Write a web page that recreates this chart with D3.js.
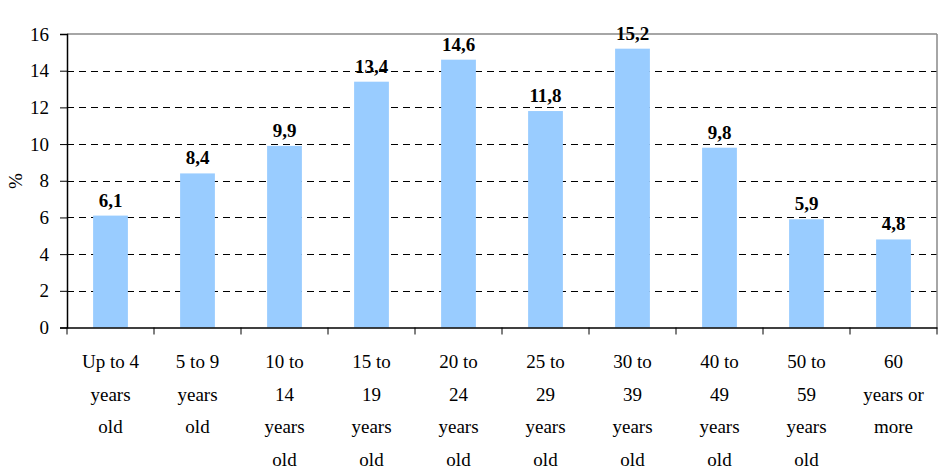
<!DOCTYPE html>
<html><head><meta charset="utf-8">
<script src="https://cdn.jsdelivr.net/npm/d3@7"></script>
<style>body{margin:0;background:#fff}</style>
</head><body>
<svg id="c" width="940" height="468" style="font-family:'Liberation Serif'"></svg>
<script>
const categories = [
  ["Up to 4","years","old"],
  ["5 to 9","years","old"],
  ["10 to","14","years","old"],
  ["15 to","19","years","old"],
  ["20 to","24","years","old"],
  ["25 to","29","years","old"],
  ["30 to","39","years","old"],
  ["40 to","49","years","old"],
  ["50 to","59","years","old"],
  ["60","years or","more"]
];
const values = [6.1, 8.4, 9.9, 13.4, 14.6, 11.8, 15.2, 9.8, 5.9, 4.8];
const yTicks = [0, 2, 4, 6, 8, 10, 12, 14, 16];
const yLabel = "%";

const svg = d3.select("#c");
const L = 67, R = 937, T = 34, B = 327.5;
const FS = "19px";
const idx = d3.range(categories.length);
const x = d3.scaleBand().domain(idx).range([L, R]).paddingInner(0.6).paddingOuter(0.3);
const xb = d3.scaleBand().domain(idx).range([L, R]);
const y = d3.scaleLinear().domain([0, 16]).range([B, T]);

function serif(sel) {
  return sel.attr("font-family", null).style("font-family", "Liberation Serif").style("font-size", FS);
}

// gridlines
svg.append("g").selectAll("line").data(yTicks.filter(v => v > 0 && v < 16)).join("line")
  .attr("x1", L).attr("x2", R).attr("y1", d => Math.round(y(d)) + 0.5).attr("y2", d => Math.round(y(d)) + 0.5)
  .attr("stroke", "#000").attr("stroke-dasharray", "7,5").attr("stroke-width", 1);
// top and right border
svg.append("line").attr("x1", L).attr("x2", R).attr("y1", T).attr("y2", T).attr("stroke", "#888").attr("stroke-width", 1.5);
svg.append("line").attr("x1", R).attr("x2", R).attr("y1", T).attr("y2", B).attr("stroke", "#888").attr("stroke-width", 1.5);

// bars
svg.append("g").selectAll("rect").data(values).join("rect")
  .attr("x", (d, i) => x(i)).attr("width", x.bandwidth())
  .attr("y", d => y(d)).attr("height", d => y(0) - y(d))
  .attr("fill", "#99CCFF");

// value labels
svg.selectAll("text.val").data(values).join("text").attr("class", "val")
  .attr("x", (d, i) => x(i) + x.bandwidth() / 2).attr("y", d => y(d) - 9)
  .attr("text-anchor", "middle")
  .call(serif).style("font-weight", "bold")
  .text(d => d.toFixed(1).replace(".", ","));

// y axis
const ya = svg.append("g").attr("transform", `translate(${L},0)`)
  .call(d3.axisLeft(y).tickValues(yTicks).tickSize(7).tickPadding(11).tickFormat(d3.format("d")));
ya.attr("font-family", null).attr("font-size", null);
ya.select(".domain").attr("stroke", "#000").attr("stroke-width", 1.5);
ya.selectAll(".tick line").attr("stroke", "#000");
ya.selectAll("text").call(serif).attr("fill", "#000");

// x axis
const xa = svg.append("g").attr("transform", `translate(0,${B})`)
  .call(d3.axisBottom(xb).tickSize(0).tickFormat(() => ""));
xa.attr("font-family", null).attr("font-size", null);
xa.select(".domain").attr("stroke", "#000").attr("stroke-width", 1.5);
xa.selectAll(".tick").remove();
svg.append("g").selectAll("line").data(d3.range(categories.length + 1)).join("line")
  .attr("x1", d => L + d * xb.step()).attr("x2", d => L + d * xb.step())
  .attr("y1", B).attr("y2", B + 7).attr("stroke", "#000");

// category labels (one text per line)
categories.forEach((lines, i) => {
  svg.selectAll(null).data(lines).join("text")
    .attr("text-anchor", "middle")
    .attr("x", xb(i) + xb.bandwidth() / 2)
    .attr("y", (d, j) => 368 + j * 32.5)
    .call(serif)
    .text(d => d);
});

// y label
svg.append("text").attr("transform", "translate(22,181) rotate(-90)")
  .attr("text-anchor", "middle").call(serif).text(yLabel);
</script>
</body></html>
